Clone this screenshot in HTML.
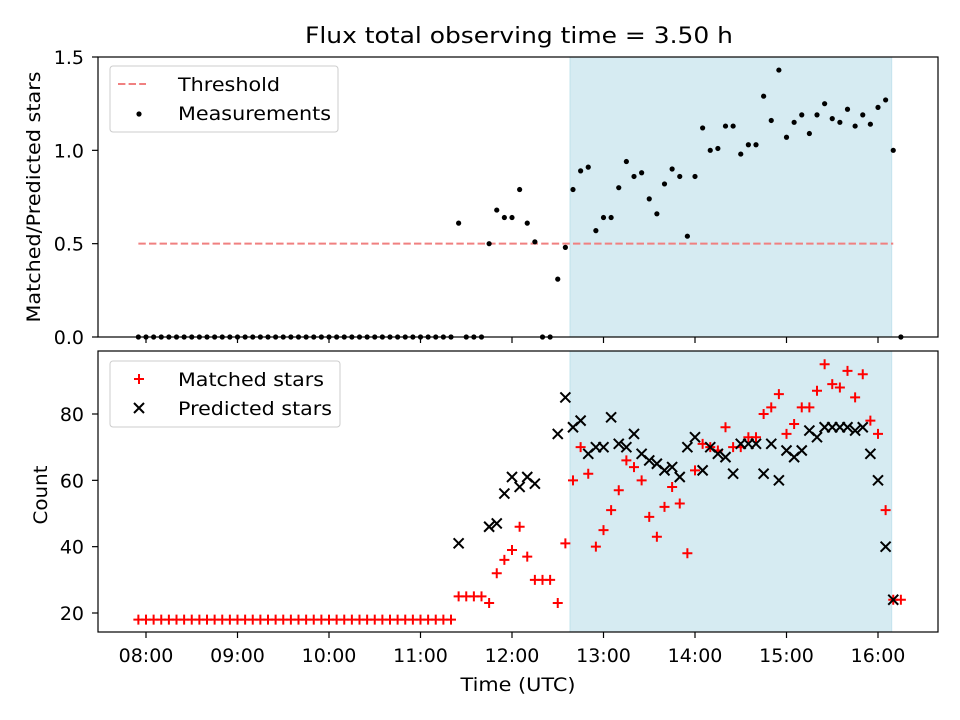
<!DOCTYPE html>
<html><head><meta charset="utf-8"><style>
body{margin:0;background:#fff}
svg{display:block;font-family:"DejaVu Sans","Liberation Sans",sans-serif}
</style></head><body>
<svg id="chart" width="960" height="720" viewBox="0 0 960 720" xmlns="http://www.w3.org/2000/svg">
<rect width="960" height="720" fill="#fff"/>
<text x="519" y="43" font-size="22" text-anchor="middle" textLength="428" lengthAdjust="spacingAndGlyphs">Flux total observing time = 3.50 h</text>
<text transform="translate(40,197) rotate(-90)" font-size="19" text-anchor="middle" textLength="251" lengthAdjust="spacingAndGlyphs">Matched/Predicted stars</text>
<text transform="translate(47,495) rotate(-90)" font-size="19" text-anchor="middle" textLength="59" lengthAdjust="spacingAndGlyphs">Count</text>
<text x="518" y="691" font-size="19" text-anchor="middle" textLength="115" lengthAdjust="spacingAndGlyphs">Time (UTC)</text>
<g id="gtop"></g><g id="gbot"></g>
</svg>
<script>
// ---- data ----
const startMin = 475, stepMin = 5; // first observation 07:55, 5-minute cadence
const ratioValues = [0,0,0,0,0,0,0,0,0,0,0,0,0,0,0,0,0,0,0,0,0,0,0,0,0,0,0,0,0,0,0,0,0,0,0,0,0,0,0,0,0,0,
0.61,0,0,0,0.50,0.68,0.64,0.64,0.79,0.61,0.51,0,0,0.31,0.48,0.79,0.89,0.91,0.57,0.64,0.64,0.80,0.94,0.86,0.88,0.74,0.66,0.82,0.90,0.86,0.54,0.86,1.12,1.00,1.01,1.13,1.13,0.98,1.03,1.03,1.29,1.16,1.43,1.07,1.15,1.19,1.09,1.19,1.25,1.17,1.15,1.22,1.13,1.19,1.14,1.23,1.27,1.00,0];
const matchedValues = [18,18,18,18,18,18,18,18,18,18,18,18,18,18,18,18,18,18,18,18,18,18,18,18,18,18,18,18,18,18,18,18,18,18,18,18,18,18,18,18,18,18,
25,25,25,25,23,32,36,39,46,37,30,30,30,23,41,60,70,62,40,45,51,57,66,64,60,49,43,52,58,53,38,63,71,70,69,76,70,70,73,73,80,82,86,74,77,82,82,87,95,89,88,93,85,92,78,74,51,24,24];
const predictedValues = [null,null,null,null,null,null,null,null,null,null,null,null,null,null,null,null,null,null,null,null,null,null,null,null,null,null,null,null,null,null,null,null,null,null,null,null,null,null,null,null,null,null,
41,null,null,null,46,47,56,61,58,61,59,null,null,74,85,76,78,68,70,70,79,71,70,74,68,66,65,63,64,61,70,73,63,70,68,67,62,71,71,71,62,71,60,69,67,69,75,73,76,76,76,76,75,76,68,60,40,24,null];
const threshold = 0.5;
const thresholdSpan = [475, 970];
const observingWindow = [758, 969];
const xTickMinutes = [480,540,600,660,720,780,840,900,960];
const xTickLabels = ["08:00","09:00","10:00","11:00","12:00","13:00","14:00","15:00","16:00"];
const topYTicks = [0,0.5,1.0,1.5];
const topYTickLabels = ["0.0","0.5","1.0","1.5"];
const botYTicks = [20,40,60,80];

// ---- scales ----
const L=98,R=938, T1=57,B1=337, T2=351,B2=632;
const xs = t => 146 + (t-480)*91.5/60;
const yTop = v => B1 - (v-0)/(1.5-0)*(B1-T1);
const yBot = v => 613 - (v-20)*199/60;
const NS="http://www.w3.org/2000/svg";
function mk(tag, attrs, parent){const e=document.createElementNS(NS,tag);for(const k in attrs)e.setAttribute(k,attrs[k]);parent.appendChild(e);return e;}
const gTop=document.getElementById('gtop'), gBot=document.getElementById('gbot');

function panel(g, T, B, name){
  const bg=mk('rect',{x:L,y:T,width:R-L,height:B-T,fill:'#fff'},g);
  
  
  const sh=mk('rect',{x:xs(observingWindow[0]),y:T,width:xs(observingWindow[1])-xs(observingWindow[0]),height:B-T,fill:'#add8e6','fill-opacity':0.5,stroke:'#add8e6','stroke-opacity':0.6},g);
  
  
}
panel(gTop,T1,B1,'top');
panel(gBot,T2,B2,'bottom');

const th=mk('line',{x1:xs(thresholdSpan[0]),x2:xs(thresholdSpan[1]),y1:yTop(threshold),y2:yTop(threshold),stroke:'#f08080','stroke-width':2,'stroke-dasharray':'7.4,3.2'},gTop);



ratioValues.forEach((v,i)=>{ if(v===null)return;
  const c=mk('circle',{cx:xs(startMin+stepMin*i),cy:yTop(v),r:2.6,fill:'#000'},gTop);
  
  
});
matchedValues.forEach((v,i)=>{ if(v===null)return;
  const x=xs(startMin+stepMin*i), y=yBot(v);
  const p=mk('path',{d:`M${x-5},${y}H${x+5}M${x},${y-5}V${y+5}`,stroke:'#f00','stroke-width':2},gBot);
  
  
});
predictedValues.forEach((v,i)=>{ if(v===null)return;
  const x=xs(startMin+stepMin*i), y=yBot(v);
  const p=mk('path',{d:`M${x-5},${y-5}L${x+5},${y+5}M${x-5},${y+5}L${x+5},${y-5}`,stroke:'#000','stroke-width':2},gBot);
  
  
});

[[gTop,T1,B1,'top'],[gBot,T2,B2,'bottom']].forEach(([g,T,B,n])=>{
  const f=mk('rect',{x:L,y:T,width:R-L,height:B-T,fill:'none',stroke:'#000','stroke-width':1.2},g);
  
  
  xTickMinutes.forEach((t,k)=>{
    const tk=mk('line',{x1:xs(t),x2:xs(t),y1:B,y2:B+6,stroke:'#000','stroke-width':1.2},g);
    
    
    if(n==='bottom'){
      const tx=mk('text',{x:xs(t),y:B+30,'font-size':19,'text-anchor':'middle'},g);
      tx.textContent=xTickLabels[k];
      
      
    }
  });
});
topYTicks.forEach((v,k)=>{
  const y=yTop(v);
  const tk=mk('line',{x1:L-6,x2:L,y1:y,y2:y,stroke:'#000','stroke-width':1.2},gTop);
  
  
  const tx=mk('text',{x:L-14,y:y+7,'font-size':19,'text-anchor':'end'},gTop);
  tx.textContent=topYTickLabels[k];
  
  
});
botYTicks.forEach(v=>{
  const y=yBot(v);
  const tk=mk('line',{x1:L-6,x2:L,y1:y,y2:y,stroke:'#000','stroke-width':1.2},gBot);
  
  
  const tx=mk('text',{x:L-14,y:y+7,'font-size':19,'text-anchor':'end'},gBot);
  tx.textContent=String(v);
  
  
});

function legend(g,y0,w,name,entries){
  const lg=mk('g',{},g);
  
  
  mk('rect',{x:110,y:y0,width:w,height:66,rx:3,fill:'#fff','fill-opacity':0.8,stroke:'#ccc'},lg);
  entries.forEach((e,k)=>{
    const yy=y0+18+k*29;
    const it=mk('g',{},lg);
    
    
    e.draw(it,140,yy);
    const t=mk('text',{x:178,y:yy+7,'font-size':19,textLength:e.w,lengthAdjust:'spacingAndGlyphs'},it);
    t.textContent=e.label;
  });
}
legend(gTop,66,228,'top-legend',[
  {label:'Threshold',w:102,draw:(g,x,y)=>mk('line',{x1:118,x2:146,y1:y,y2:y,stroke:'#f08080','stroke-width':2,'stroke-dasharray':'7.4,3.2'},g)},
  {label:'Measurements',w:153,draw:(g,x,y)=>mk('circle',{cx:139,cy:y+1,r:2.6,fill:'#000'},g)}
]);
legend(gBot,361,230,'bottom-legend',[
  {label:'Matched stars',w:146,draw:(g,x,y)=>mk('path',{d:`M134,${y}H144M139,${y-5}V${y+5}`,stroke:'#f00','stroke-width':2},g)},
  {label:'Predicted stars',w:154,draw:(g,x,y)=>mk('path',{d:`M134,${y-5}L144,${y+5}M134,${y+5}L144,${y-5}`,stroke:'#000','stroke-width':2},g)}
]);
</script>
</body></html>
